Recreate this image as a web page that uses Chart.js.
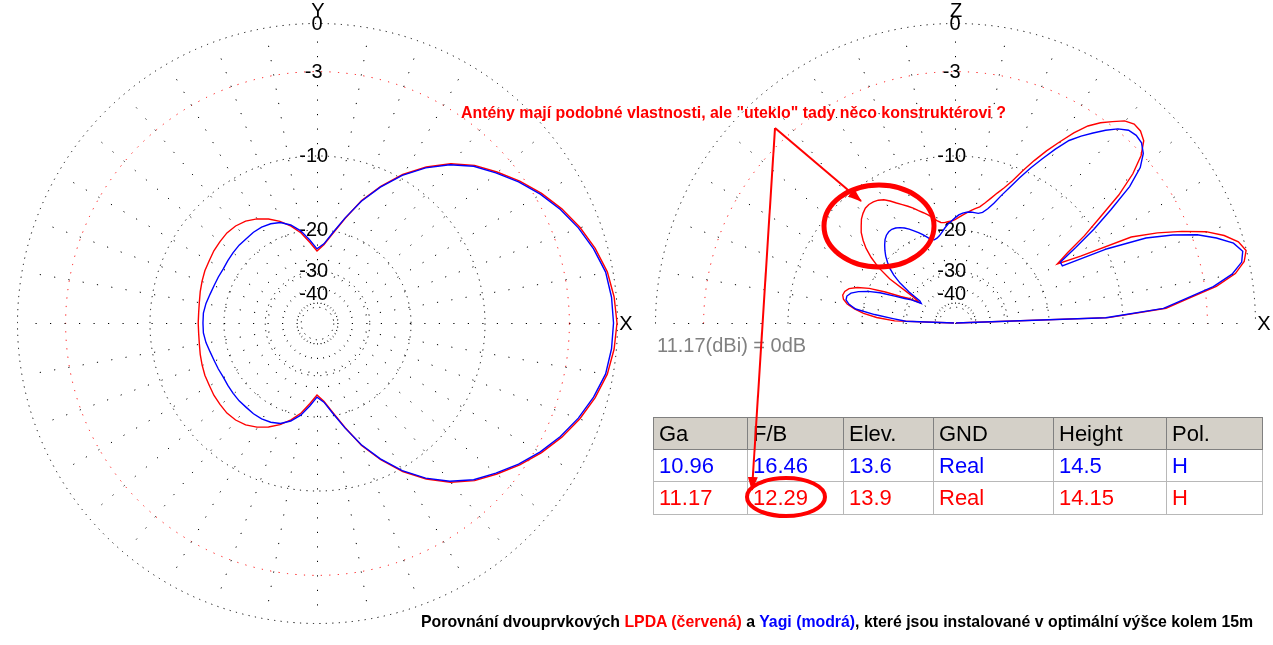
<!DOCTYPE html>
<html><head><meta charset="utf-8">
<script src="https://cdn.jsdelivr.net/npm/chart.js@4.4.0/dist/chart.umd.min.js"></script>
<style>
html,body{margin:0;padding:0;background:#fff;}
body{width:1273px;height:645px;position:relative;overflow:hidden;font-family:Arial,"Liberation Sans",sans-serif;}
canvas{position:absolute;top:0;}
#az{left:0;} #el{left:638px;}
.txt{position:absolute;white-space:nowrap;line-height:1;}
#note{left:461px;top:105px;font-size:15.9px;font-weight:bold;color:#ff0000;}
#ref{left:657px;top:335px;font-size:20px;color:#808080;}
#caption{left:421px;top:614px;font-size:15.85px;font-weight:bold;color:#000;}
#tbl{position:absolute;left:653px;top:417px;border-collapse:collapse;table-layout:fixed;width:609px;border:1px solid #404040;font-size:22px;}
#tbl td{padding:0 0 0 5px;border:1px solid #b8b8b8;white-space:nowrap;overflow:hidden;vertical-align:middle;}
#tbl tr.h td{background:#d4d0c8;color:#000;border-color:#808080;}
svg{position:absolute;left:0;top:0;}
</style></head><body>
<canvas id="az" width="634" height="645"></canvas>
<canvas id="el" width="634" height="645"></canvas>
<div class="txt" id="note">Antény mají podobné vlastnosti, ale "uteklo" tady něco konstruktérovi ?</div>
<div class="txt" id="ref">11.17(dBi) = 0dB</div>
<table id="tbl"><colgroup><col style="width:94px"><col style="width:96px"><col style="width:90px"><col style="width:120px"><col style="width:113px"><col style="width:96px"></colgroup><tbody></tbody></table>
<div class="txt" id="caption">Porovnání dvouprvkových <span style="color:#ff0000">LPDA (červená)</span> a <span style="color:#0000ff">Yagi (modrá)</span>, které jsou instalované v optimální výšce kolem 15m</div>
<svg width="1273" height="645">
 <defs><marker id="ah" markerWidth="14" markerHeight="10" refX="13" refY="5" orient="auto" markerUnits="userSpaceOnUse"><path d="M0,0 L14,5 L0,10 z" fill="#ff0000"/></marker></defs>
 <line x1="775" y1="128" x2="861" y2="201" stroke="#ff0000" stroke-width="2" marker-end="url(#ah)"/>
 <line x1="775" y1="128" x2="752" y2="490" stroke="#ff0000" stroke-width="2" marker-end="url(#ah)"/>
 <ellipse cx="879" cy="226" rx="55" ry="41" fill="none" stroke="#ff0000" stroke-width="5"/>
 <ellipse cx="786" cy="497" rx="39" ry="19" fill="none" stroke="#ff0000" stroke-width="4"/>
</svg>
<script>
// ---------- DATA ----------
// Azimuth pattern (angle in degrees from X axis, gain in dB relative to 11.17 dBi)
const azAngles = [0,5,10,15,20,25,30,35,40,45,50,55,60,65,70,75,80,85,90,95,100,105,110,115,120,125,130,135,140,145,150,155,160,165,170,175,180,185,190,195,200,205,210,215,220,225,230,235,240,245,250,255,260,265,270,275,280,285,290,295,300,305,310,315,320,325,330,335,340,345,350,355];
const azLPDA = [0,-0.1,-0.3,-0.7,-1.2,-1.8,-2.5,-3.3,-4.2,-5.1,-6.3,-7.8,-9.6,-11.8,-14.3,-17.5,-20.5,-23.0,-24.5,-22.5,-20.4,-18.8,-17.5,-16.5,-15.7,-15.1,-14.8,-14.7,-14.8,-14.9,-15.1,-15.2,-15.4,-15.6,-15.8,-15.9,-15.9,-15.9,-15.8,-15.6,-15.4,-15.2,-15.1,-14.9,-14.8,-14.7,-14.8,-15.1,-15.7,-16.5,-17.5,-18.8,-20.4,-22.5,-24.5,-23.0,-20.5,-17.5,-14.3,-11.8,-9.6,-7.8,-6.3,-5.1,-4.2,-3.3,-2.5,-1.8,-1.2,-0.7,-0.3,-0.1];
const azYagi = [-0.2,-0.25,-0.4,-0.8,-1.3,-1.9,-2.6,-3.4,-4.3,-5.2,-6.4,-7.9,-9.7,-11.9,-14.4,-17.4,-20.3,-22.8,-24.0,-22.0,-20.0,-18.6,-17.7,-17.3,-17.1,-17.1,-17.2,-17.2,-17.3,-17.4,-17.5,-17.4,-17.3,-17.1,-16.8,-16.6,-16.6,-16.6,-16.8,-17.1,-17.3,-17.4,-17.5,-17.4,-17.3,-17.2,-17.2,-17.1,-17.1,-17.3,-17.7,-18.6,-20.0,-22.0,-24.0,-22.8,-20.3,-17.4,-14.4,-11.9,-9.7,-7.9,-6.4,-5.2,-4.3,-3.4,-2.6,-1.9,-1.3,-0.8,-0.4,-0.25];

// Elevation pattern (elevation angle 0..180 deg, gain in dB)
const elevAngles = [0,2,4,6,8,10,12,14,16,18,20,22,24,26,28,30,32,34,36,38,40,42,44,46,48,50,52,54,56,58,60,62,64,66,68,70,72,74,76,78,80,82,84,86,88,90,92,94,96,98,100,102,104,106,108,110,112,114,116,118,120,122,124,126,128,130,132,134,136,138,140,142,144,146,148,150,152,154,156,158,160,162,164,166,168,170,172,174,176,178,180];
const elevLPDA = [-99,-11.5,-6.0,-4.2,-2.2,-0.9,-0.25,0,-0.3,-1.0,-2.0,-3.5,-5.2,-7.3,-12.8,-16.0,-14.0,-11.2,-8.9,-6.3,-4.4,-3.1,-2.3,-2.0,-1.95,-2.2,-2.75,-3.3,-4.0,-5.0,-6.2,-7.4,-8.7,-10.1,-11.5,-12.6,-13.5,-14.4,-15.2,-15.9,-16.3,-16.7,-17.1,-17.5,-17.9,-18.3,-18.5,-18.6,-18.7,-18.6,-18.2,-17.6,-17.0,-16.5,-16.0,-15.4,-14.9,-14.4,-13.9,-13.3,-12.8,-12.5,-12.35,-12.3,-12.4,-12.7,-13.1,-13.7,-14.3,-15.2,-16.3,-17.8,-19.8,-23.0,-31,-34,-30,-27.5,-23.5,-20.2,-18.2,-17.0,-16.5,-16.35,-16.6,-17.3,-18.6,-20.3,-23.0,-27.5,-99];
const elevYagi = [-99,-11.8,-6.2,-4.4,-2.4,-1.1,-0.4,-0.2,-0.6,-1.5,-2.6,-4.2,-6.2,-9.8,-15.5,-15.5,-12.8,-10.0,-7.6,-5.2,-3.7,-2.9,-2.5,-2.4,-2.5,-2.9,-3.5,-4.2,-4.9,-5.7,-6.9,-8.2,-9.5,-10.9,-12.3,-13.6,-14.9,-15.9,-16.6,-16.9,-16.9,-16.9,-17.0,-17.2,-17.5,-18.0,-18.5,-19.0,-19.6,-20.3,-20.9,-21.3,-21.5,-21.3,-20.6,-19.9,-19.3,-18.7,-18.1,-17.6,-17.2,-16.9,-16.75,-16.8,-17.0,-17.4,-18.0,-18.7,-19.5,-20.5,-21.6,-23.2,-25.5,-29,-34,-35,-31,-28.8,-26,-22.5,-20.2,-18.6,-17.5,-17.0,-17.0,-17.6,-18.8,-22.5,-27,-31,-99];

// Radial grid and tick labels (dB)
const ringValues = [0, -3, -10, -20, -30, -50];
const tickLabels = [0, -3, -10, -20, -30, -40];

// Table
const tableHeader = ['Ga','F/B','Elev.','GND','Height','Pol.'];
const yagiRow = ['10.96','16.46','13.6','Real','14.5','H'];
const lpdaRow = ['11.17','12.29','13.9','Real','14.15','H'];

// ---------- TABLE ----------
const tb = document.querySelector('#tbl tbody');
[[tableHeader,'#000','h',32],[yagiRow,'#0000ff','',32],[lpdaRow,'#ff0000','',33]].forEach(([row,col,cls,h])=>{
  const tr = document.createElement('tr'); if (cls) tr.className = cls; tr.style.height = h + 'px';
  row.forEach(v=>{ const td=document.createElement('td'); td.textContent=v; td.style.color=col; tr.appendChild(td); });
  tb.appendChild(tr);
});

// ---------- ARRL log polar scale ----------
const GRID_CFG = { az: { half: false, top: 'Y' }, el: { half: true, top: 'Z' } };
class ArrlScale extends Chart.RadialLinearScale {
  getDistanceFromCenterForValue(v) {
    if (v === null || v === undefined || isNaN(v)) return NaN;
    return this.drawingArea * Math.pow(0.89, -v / 2);
  }
  drawGrid() {
    const ctx = this.ctx, cx = this.xCenter + 0.5, cy = this.yCenter + 0.5;
    const cfg = GRID_CFG[this.chart.canvas.id];
    ctx.save();
    ctx.lineWidth = 1;
    ringValues.forEach(v => {
      const r = this.getDistanceFromCenterForValue(v);
      ctx.strokeStyle = v === -3 ? '#ff0000' : '#000000';
      ctx.setLineDash(v === -3 ? [1.2, 7.3] : [1.2, 5.3]);
      ctx.beginPath();
      if (cfg.half) ctx.arc(cx, cy, r, Math.PI, 2 * Math.PI); else ctx.arc(cx, cy, r, 0, 2 * Math.PI);
      ctx.stroke();
    });
    const rIn = this.getDistanceFromCenterForValue(-50), rOut = this.drawingArea;
    ctx.strokeStyle = '#000000';
    ctx.setLineDash([1.2, 13.3]);
    const n = cfg.half ? 19 : 36;
    for (let k = 0; k < n; k++) {
      const a = k * 10 * Math.PI / 180, ux = Math.cos(a), uy = -Math.sin(a);
      ctx.beginPath();
      ctx.moveTo(cx + ux * (rOut - 18), cy + uy * (rOut - 18));
      ctx.lineTo(cx + ux * rIn, cy + uy * rIn);
      ctx.stroke();
    }
    if (cfg.half) {
      ctx.setLineDash([1.2, 14.8]);
      ctx.beginPath(); ctx.moveTo(cx - rIn, cy); ctx.lineTo(cx + rIn, cy); ctx.stroke();
    }
    ctx.restore();
  }
  drawLabels() {
    const ctx = this.ctx, cx = this.xCenter, cy = this.yCenter;
    const cfg = GRID_CFG[this.chart.canvas.id];
    ctx.save();
    ctx.fillStyle = '#000';
    ctx.textBaseline = 'middle';
    ctx.font = '20px Arial, "Liberation Sans", sans-serif';
    tickLabels.forEach(v => {
      const y = cy - this.getDistanceFromCenterForValue(v) + 1;
      const s = String(Math.abs(v));
      ctx.textAlign = 'center';
      ctx.fillText(s, cx, y);
      if (v < 0) { const w = ctx.measureText(s).width; ctx.textAlign = 'right'; ctx.fillText('-', cx - w / 2, y); }
    });
    ctx.font = '20px Arial, "Liberation Sans", sans-serif';
    ctx.textAlign = 'center';
    ctx.fillText(cfg.top, cx + 1, cy - this.drawingArea - 12);
    ctx.fillText('X', cx + this.drawingArea + 9, cy + 1);
    ctx.restore();
  }
}
ArrlScale.id = 'arrl';
Chart.register(ArrlScale);

function polarChart(id, labels, yagi, lpda, startAngle) {
  return new Chart(document.getElementById(id), {
    type: 'radar',
    data: { labels, datasets: [
      { label: 'Yagi', data: yagi, borderColor: '#0000ff', borderWidth: 1.4, fill: false, pointRadius: 0, clip: false },
      { label: 'LPDA', data: lpda, borderColor: '#ff0000', borderWidth: 1.4, fill: false, pointRadius: 0, clip: false }
    ]},
    options: {
      responsive: false, animation: false, devicePixelRatio: 1,
      layout: { padding: { left: 17, right: 17, top: 23, bottom: 22 } },
      plugins: { legend: { display: false }, tooltip: { enabled: false } },
      elements: { line: { tension: 0 }, point: { radius: 0 } },
      scales: { r: { type: 'arrl', startAngle, min: -99, max: 0,
        pointLabels: { display: false }, ticks: { display: false }, angleLines: { display: false } } }
    }
  });
}

// Azimuth chart
polarChart('az', azAngles.map(String), azYagi, azLPDA, 90);

// Elevation chart: upper half only; index 0 = 180 deg (left), going clockwise over the top to 0 deg (right)
const elLabels = elevAngles.slice().reverse().map(String);
const lowerHalf = [];
for (let a = -2; a > -180; a -= 2) lowerHalf.push(String(a));
const pad = lowerHalf.map(() => null);
polarChart('el', elLabels.concat(lowerHalf), elevYagi.slice().reverse().concat(pad), elevLPDA.slice().reverse().concat(pad), -90);
</script>
</body></html>
